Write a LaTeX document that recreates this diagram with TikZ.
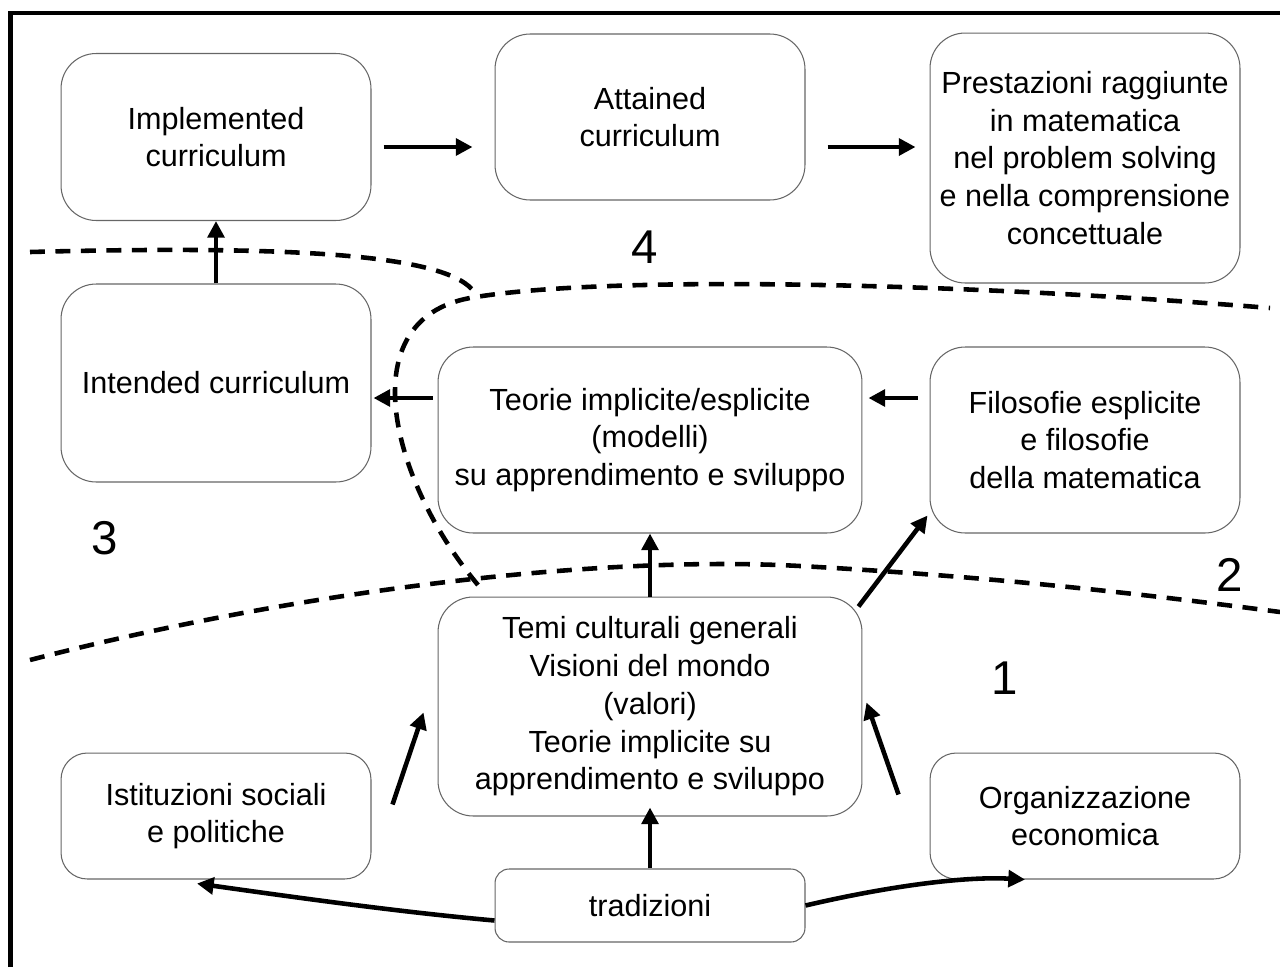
\documentclass[tikz,border=0pt]{standalone}
\usepackage{fontspec}
\setmainfont{Liberation Sans}
\usetikzlibrary{positioning, arrows.meta, calc}

\begin{document}
\begin{tikzpicture}[
    x=0.02cm, y=-0.02cm,
    box/.style={rectangle, rounded corners=20pt, draw=black!60, line width=0.6pt, minimum width=6.2cm, align=center, font=\fontsize{17.4}{21.5}\selectfont},
    arr/.style={-{Triangle[length=9.5pt, width=9.5pt]}, line width=2.6pt},
    zone/.style={dash pattern=on 8.5pt off 6pt, line width=2.6pt},
    num/.style={font=\fontsize{27}{30}\selectfont}
]
\useasboundingbox (0,0) rectangle (1280,967);

% Frame
\draw[line width=2.8pt] (10.5,967) -- (10.5,13) -- (1280,13);

% Top row
\node[box, minimum height=3.34cm] (impl) at (216,137) {Implemented\\curriculum};
\node[box, minimum height=3.32cm] (att) at (650,117) {Attained\\curriculum};
\node[box, minimum height=5cm] (prest) at (1085,158) {Prestazioni raggiunte\\in matematica\\nel problem solving\\e nella comprensione\\concettuale};

% Middle row
\node[box, minimum height=3.96cm] (intended) at (216,383) {Intended curriculum};
\node[box, minimum width=8.48cm, minimum height=3.72cm] (teorie) at (650,440) {Teorie implicite/esplicite\\(modelli)\\su apprendimento e sviluppo};
\node[box, minimum height=3.72cm] (filos) at (1085,440) {Filosofie esplicite\\e filosofie\\della matematica};

% Bottom rows
\node[box, minimum width=8.48cm, minimum height=4.38cm] (temi) at (650,706.5) {Temi culturali generali\\Visioni del mondo\\(valori)\\Teorie implicite su\\apprendimento e sviluppo};
\node[box, minimum height=2.52cm, rounded corners=15pt] (istit) at (216,816) {Istituzioni sociali\\e politiche};
\node[box, minimum height=2.52cm, rounded corners=15pt] (org) at (1085,816) {Organizzazione\\economica};
\node[box, minimum height=1.46cm, rounded corners=8pt] (trad) at (650,905.5) {tradizioni};

% Zone boundaries
\draw[zone] (30,252) .. controls (300,245) and (450,255) .. (475,293);
\draw[zone] (478,585) .. controls (390,480) and (350,320) .. (470,298)
    .. controls (600,275) and (950,282) .. (1270,308);
\draw[zone] (30,660) .. controls (300,590) and (600,555) .. (800,566)
    .. controls (1000,577) and (1150,595) .. (1280,612);

% Zone numbers
\node[num] (n4) at (645,247) {4};
\node[num] (n3) at (105,538) {3};
\node[num] (n2) at (1230,575) {2};
\node[num] (n1) at (1005,678) {1};

% Arrows
\draw[arr] ($(impl.east)+(12,10)$) -- ($(att.west)+(-22,30)$);
\draw[arr] ($(att.east)+(22,30)$) -- ($(prest.west)+(-14,-11)$);
\draw[arr] (intended.north) -- (impl.south);
\draw[arr] ($(teorie.west)+(-5,-42)$) -- ($(intended.east)+(2,15)$);
\draw[arr] ($(filos.west)+(-12,-42)$) -- ($(teorie.east)+(6,-42)$);
\draw[arr] (temi.north) -- (teorie.south);
\draw[arr] ($(temi.north east)+(-4,10)$) -- ($(filos.south west)+(-2,-18)$);
\draw[arr] ($(istit.north east)+(21,52)$) -- ($(temi.west)+(-14,6)$);
\draw[arr] ($(org.north west)+(-31,42)$) -- ($(temi.east)+(4,-4)$);
\draw[arr] (trad.north) -- ($(temi.south)+(0,-9)$);
\draw[arr] ($(trad.west)+(0,15)$) .. controls (400,912) and (300,898) .. ($(istit.south)+(-19,4)$);
\draw[arr] (trad.east) .. controls (880,888) and (960,876) .. ($(org.south)+(-60,0)$);

\end{tikzpicture}
\end{document}
